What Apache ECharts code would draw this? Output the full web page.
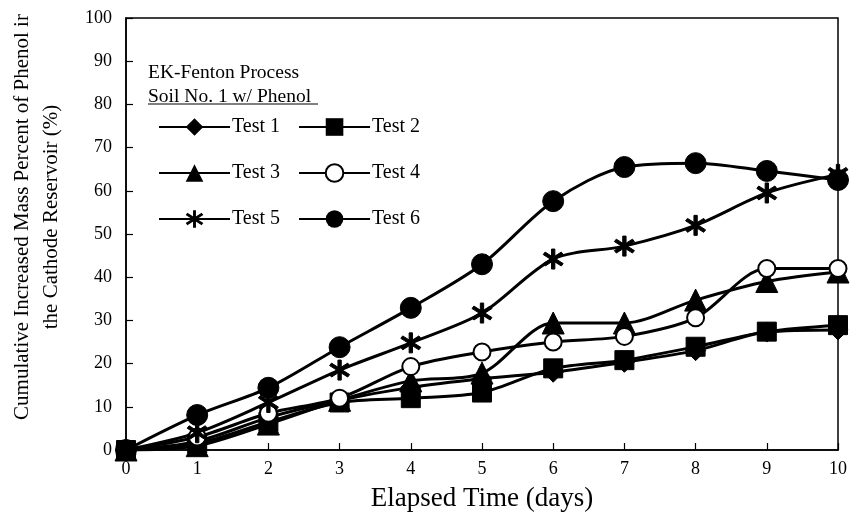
<!DOCTYPE html>
<html>
<head>
<meta charset="utf-8">
<script src="https://cdn.jsdelivr.net/npm/echarts@6/dist/echarts.min.js"></script>
<style>
  html, body { margin: 0; padding: 0; background: #fff; }
  #chart { width: 850px; height: 519px; }
</style>
</head>
<body>
<div id="chart"></div>
<script>
// elapsed time (days)
const days = [0, 1, 2, 3, 4, 5, 6, 7, 8, 9, 10];

// cumulative mass percent of phenol in cathode reservoir (%)
const test1 = [0, 2.0, 7.5, 11.5, 14.5, 16.5, 18.0, 20.3, 23.0, 27.3, 27.8];
const test2 = [0, 1.5, 6.5, 11.0, 12.0, 13.3, 18.9, 20.8, 23.9, 27.4, 28.9];
const test3 = [0, 1.0, 6.0, 11.5, 16.0, 17.8, 29.4, 29.4, 34.7, 39.0, 41.2];
const test4 = [0, 3.0, 8.5, 12.0, 19.3, 22.7, 25.0, 26.3, 30.6, 42.0, 42.0];
const test5 = [0, 4.0, 11.0, 18.5, 24.8, 31.7, 44.2, 47.2, 52.0, 59.5, 63.8];
const test6 = [0, 8.1, 14.4, 23.8, 32.9, 43.0, 57.6, 65.5, 66.4, 64.6, 62.5];

const seriesNames = ['Test 1', 'Test 2', 'Test 3', 'Test 4', 'Test 5', 'Test 6'];

// asterisk marker (vertical bar + two diagonals)
const asterisk = 'path://M-1.5,-10L1.5,-10L1.5,10L-1.5,10Z' +
  'M7.33,-6.97L9.05,-4.51L-7.33,6.97L-9.05,4.51Z' +
  'M9.05,4.51L7.33,6.97L-9.05,-4.51L-7.33,-6.97Z';

const serif = 'Liberation Serif';

function mkSeries(name, values, symbol, size, extra) {
  return Object.assign({
    name: name,
    type: 'line',
    smooth: 0.3,
    data: days.map((d, i) => [d, values[i]]),
    symbol: symbol,
    symbolSize: size,
    lineStyle: { color: '#000', width: 3 },
    itemStyle: { color: '#000', borderColor: '#000' },
    emphasis: { disabled: true },
    z: 3
  }, extra || {});
}

const chart = echarts.init(document.getElementById('chart'), null, { renderer: 'canvas' });

const legendBase = {
  left: 153,
  orient: 'horizontal',
  itemWidth: 71,
  itemHeight: 22,
  itemGap: 18,
  selectedMode: false,
  textStyle: { fontFamily: serif, fontSize: 20, color: '#000', padding: [0, 0, 0, -3] }
};

chart.setOption({
  backgroundColor: '#fff',
  animation: false,
  grid: {
    left: 126, top: 18, right: 12, bottom: 69,
    outerBoundsMode: 'none',
    containLabel: false,
    show: true, borderColor: '#000', borderWidth: 1.5, backgroundColor: 'transparent'
  },
  legend: [
    Object.assign({}, legendBase, { top: 112, data: ['Test 1', 'Test 2'] }),
    Object.assign({}, legendBase, { top: 158, data: ['Test 3', 'Test 4'] }),
    Object.assign({}, legendBase, { top: 204, data: ['Test 5', 'Test 6'] })
  ],
  xAxis: {
    type: 'value',
    min: 0, max: 10, interval: 1,
    name: 'Elapsed Time (days)',
    nameLocation: 'middle',
    nameGap: 35,
    nameTextStyle: { fontFamily: serif, fontSize: 27, color: '#000' },
    axisLine: { lineStyle: { color: '#000', width: 1.5 } },
    axisTick: { inside: true, length: 7, lineStyle: { color: '#000', width: 1.2 } },
    axisLabel: { fontFamily: serif, fontSize: 18, color: '#000', margin: 10 },
    splitLine: { show: false }
  },
  yAxis: {
    type: 'value',
    min: 0, max: 100, interval: 10,
    name: 'Cumulative Increased Mass Percent of Phenol ir\nthe Cathode Reservoir (%)',
    nameLocation: 'middle',
    nameGap: 60,
    nameRotate: 90,
    nameTextStyle: { fontFamily: serif, fontSize: 21, color: '#000', lineHeight: 29, padding: [0, 0, 0, 34] },
    axisLine: { lineStyle: { color: '#000', width: 1.5 } },
    axisTick: { inside: true, length: 7, lineStyle: { color: '#000', width: 1.2 } },
    axisLabel: { fontFamily: serif, fontSize: 18, color: '#000', margin: 14 },
    splitLine: { show: false }
  },
  graphic: [
    {
      type: 'text', left: 148, top: 63,
      style: { text: 'EK-Fenton Process', font: '19.5px "Liberation Serif"', fill: '#000' }
    },
    {
      type: 'text', left: 148, top: 87,
      style: { text: 'Soil No. 1 w/ Phenol', font: '19.5px "Liberation Serif"', fill: '#000' }
    },
    {
      type: 'line', shape: { x1: 148, y1: 104, x2: 318, y2: 104 },
      style: { stroke: '#000', lineWidth: 1 }
    }
  ],
  series: [
    mkSeries(seriesNames[0], test1, 'diamond', 20),
    mkSeries(seriesNames[1], test2, 'rect', 19),
    mkSeries(seriesNames[2], test3, 'triangle', 22),
    mkSeries(seriesNames[3], test4, 'emptyCircle', 17, {
      itemStyle: { color: '#000', borderColor: '#000', borderWidth: 3 }
    }),
    mkSeries(seriesNames[4], test5, asterisk, 20),
    mkSeries(seriesNames[5], test6, 'circle', 21)
  ]
});
</script>
</body>
</html>
